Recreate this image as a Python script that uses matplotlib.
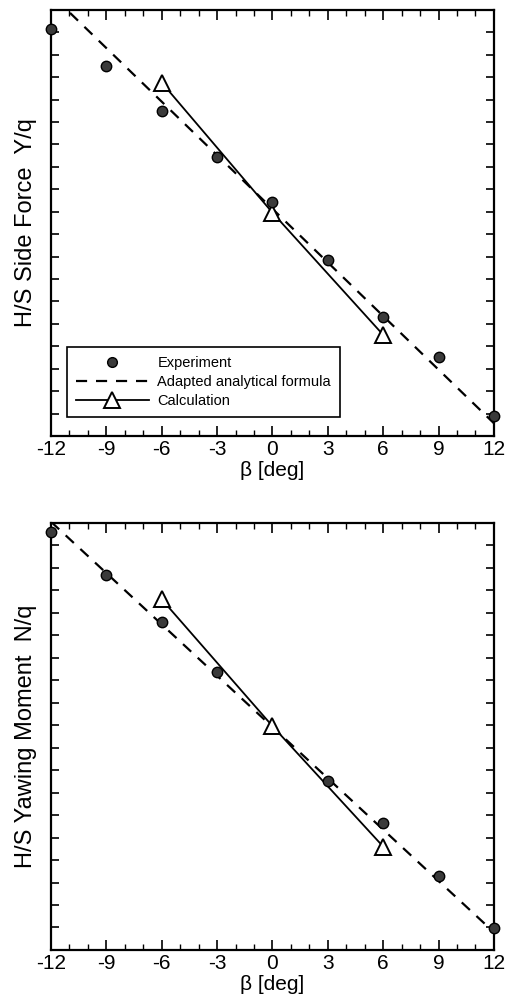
import numpy as np
import matplotlib
matplotlib.use("Agg")
import matplotlib.pyplot as plt
from matplotlib.ticker import MultipleLocator

plt.rcParams['font.family'] = ['Liberation Sans', 'DejaVu Sans']

# sideslip angles [deg]
beta_exp = [-12, -9, -6, -3, 0, 3, 6, 9, 12]
beta_exp_n = [-12, -9, -6, -3, 3, 6, 9, 12]
beta_calc = [-6, 0, 6]
beta_fit = [-12, 12]

# H/S side force Y/q (arbitrary units, no scale printed)
side_exp = [18.17, 16.52, 14.51, 12.46, 10.45, 7.86, 5.31, 3.53, 0.89]
side_calc = [15.76, 9.96, 4.51]
side_fit = [19.69, 0.57]

# H/S yawing moment N/q (arbitrary units)
yaw_exp = [18.6, 16.7, 14.6, 12.37, 7.5, 5.67, 3.3, 0.98]
yaw_calc = [15.6, 9.96, 4.6]
yaw_fit = [19.05, 0.79]

xtick_vals = list(range(-12, 13, 3))

fig = plt.figure(figsize=(5.05, 10.06), dpi=100)
ax1 = fig.add_axes([0.101, 0.5666, 0.877, 0.4235])
ax2 = fig.add_axes([0.101, 0.0557, 0.877, 0.4245])


def draw_panel(ax, bx, y_exp, y_fit, y_calc, ylabel):
    ax.plot(beta_fit, y_fit, color='black', linestyle=(0, (5, 4)), linewidth=1.6,
            label='Adapted analytical formula')
    ax.plot(beta_calc, y_calc, color='black', linewidth=1.3, marker='^', markersize=12,
            markerfacecolor='white', markeredgecolor='black', markeredgewidth=1.4,
            label='Calculation', clip_on=False, zorder=3)
    ax.plot(bx, y_exp, linestyle='none', marker='o', markersize=7.5,
            markerfacecolor='#3a3a3a', markeredgecolor='black', markeredgewidth=1.0,
            label='Experiment', clip_on=False, zorder=4)

    ax.set_xlim(-12, 12)
    ax.set_ylim(0, 19)
    ax.set_xticks(xtick_vals)
    ax.set_xticklabels([str(v) for v in xtick_vals])
    ax.xaxis.set_minor_locator(MultipleLocator(1))
    ax.yaxis.set_major_locator(MultipleLocator(1))
    ax.tick_params(which='both', direction='in', top=True, right=True)
    ax.tick_params(axis='x', which='major', length=7, width=1.2, labelsize=15, pad=3)
    ax.tick_params(axis='x', which='minor', length=4, width=1.0)
    ax.tick_params(axis='y', which='major', length=6, width=1.2, labelleft=False)
    for sp in ax.spines.values():
        sp.set_linewidth(1.6)
    ax.set_xlabel('β [deg]', fontsize=15, labelpad=1)
    ax.set_ylabel(ylabel, fontsize=17, labelpad=10)


draw_panel(ax1, beta_exp, side_exp, side_fit, side_calc, 'H/S Side Force  Y/q')
draw_panel(ax2, beta_exp_n, yaw_exp, yaw_fit, yaw_calc, 'H/S Yawing Moment  N/q')

handles, labels = ax1.get_legend_handles_labels()
order = [2, 0, 1]
leg = ax1.legend([handles[i] for i in order], [labels[i] for i in order],
                 loc='lower left', bbox_to_anchor=(0.036, 0.045),
                 fontsize=10.5, handlelength=5.0, handletextpad=0.6,
                 borderpad=0.6, labelspacing=0.35, fancybox=False,
                 framealpha=1, edgecolor='black', borderaxespad=0)
leg.get_frame().set_linewidth(1.2)
# smaller markers inside the legend
for h in leg.legend_handles:
    if h.get_marker() == 'o':
        h.set_markersize(7)
    elif h.get_marker() == '^':
        h.set_markersize(11)

fig.savefig('out.png', dpi=100)
